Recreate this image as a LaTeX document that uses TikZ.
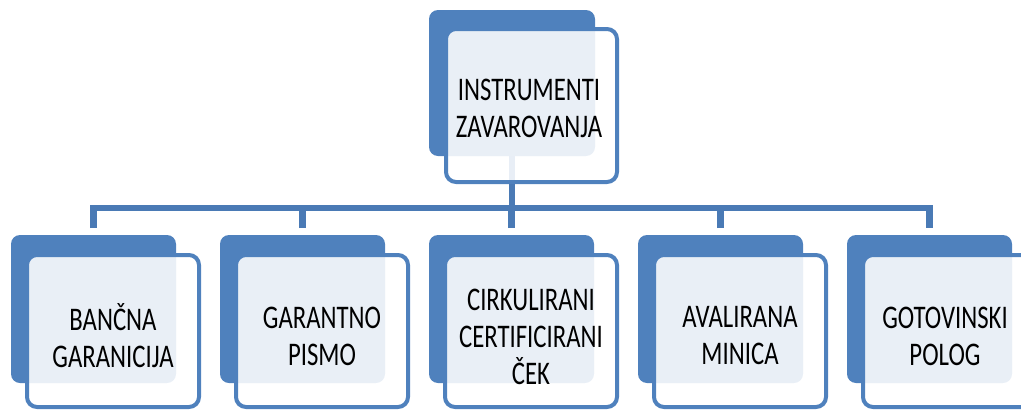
\documentclass[tikz,border=0pt]{standalone}
\usepackage{fontspec}
\newfontfamily\boxfont[FakeStretch=0.75]{Carlito}
\definecolor{ofblue}{HTML}{4F81BD}
\definecolor{lnblue}{HTML}{4A7AB5}
\begin{document}
\begin{tikzpicture}[x=1pt,y=-1pt,
  backbox/.style={fill=ofblue,rounded corners=9pt},
  frontbox/.style={draw=ofblue,line width=4pt,fill=white,fill opacity=0.88,draw opacity=1,rounded corners=10pt},
  label/.style={align=center,font=\boxfont\fontsize{33}{37}\selectfont,text=black,inner sep=0pt},
  conn/.style={draw=lnblue,line width=6.5pt}]
\useasboundingbox (0,0) rectangle (1021,410);
\clip (0,0) rectangle (1021,410);
% top
\fill[backbox] (429,10) rectangle (595,156);
\coordinate (tb) at (512,156);
\coordinate (bus) at (512,208);
% bottom back boxes and connector ends
\foreach \i/\xx in {1/11,2/220,3/429,4/638,5/847}{
  \fill[backbox] (\xx,235) rectangle ++(165,148);
  \coordinate (c\i) at (\xx+82.5,228);
}
% connectors
\draw[conn] (tb) -- (bus);
\draw[conn,line join=miter] (c1) |- (bus) -| (c5);
\draw[conn] (c2) -- (c2|-bus);
\draw[conn] (c3) -- (c3|-bus);
\draw[conn] (c4) -- (c4|-bus);
% front boxes
\draw[frontbox] (446,29) rectangle (617,182);
\foreach \xx in {11,220,429,638,847}{
  \draw[frontbox] (\xx+16,255) rectangle ++(172,152);
}
% labels
\node[label] (t0) at (529,108) {INSTRUMENTI\\ZAVAROVANJA};
\node[label] (t1) at (113,336) {BANČNA\\GARANICIJA};
\node[label] (t2) at (322,336) {GARANTNO\\PISMO};
\node[label] (t3) at (531,337) {CIRKULIRANI\\CERTIFICIRANI\\ČEK};
\node[label] (t4) at (740,336) {AVALIRANA\\MINICA};
\node[label] (t5) at (945,336) {GOTOVINSKI\\POLOG};
\end{tikzpicture}
\end{document}
